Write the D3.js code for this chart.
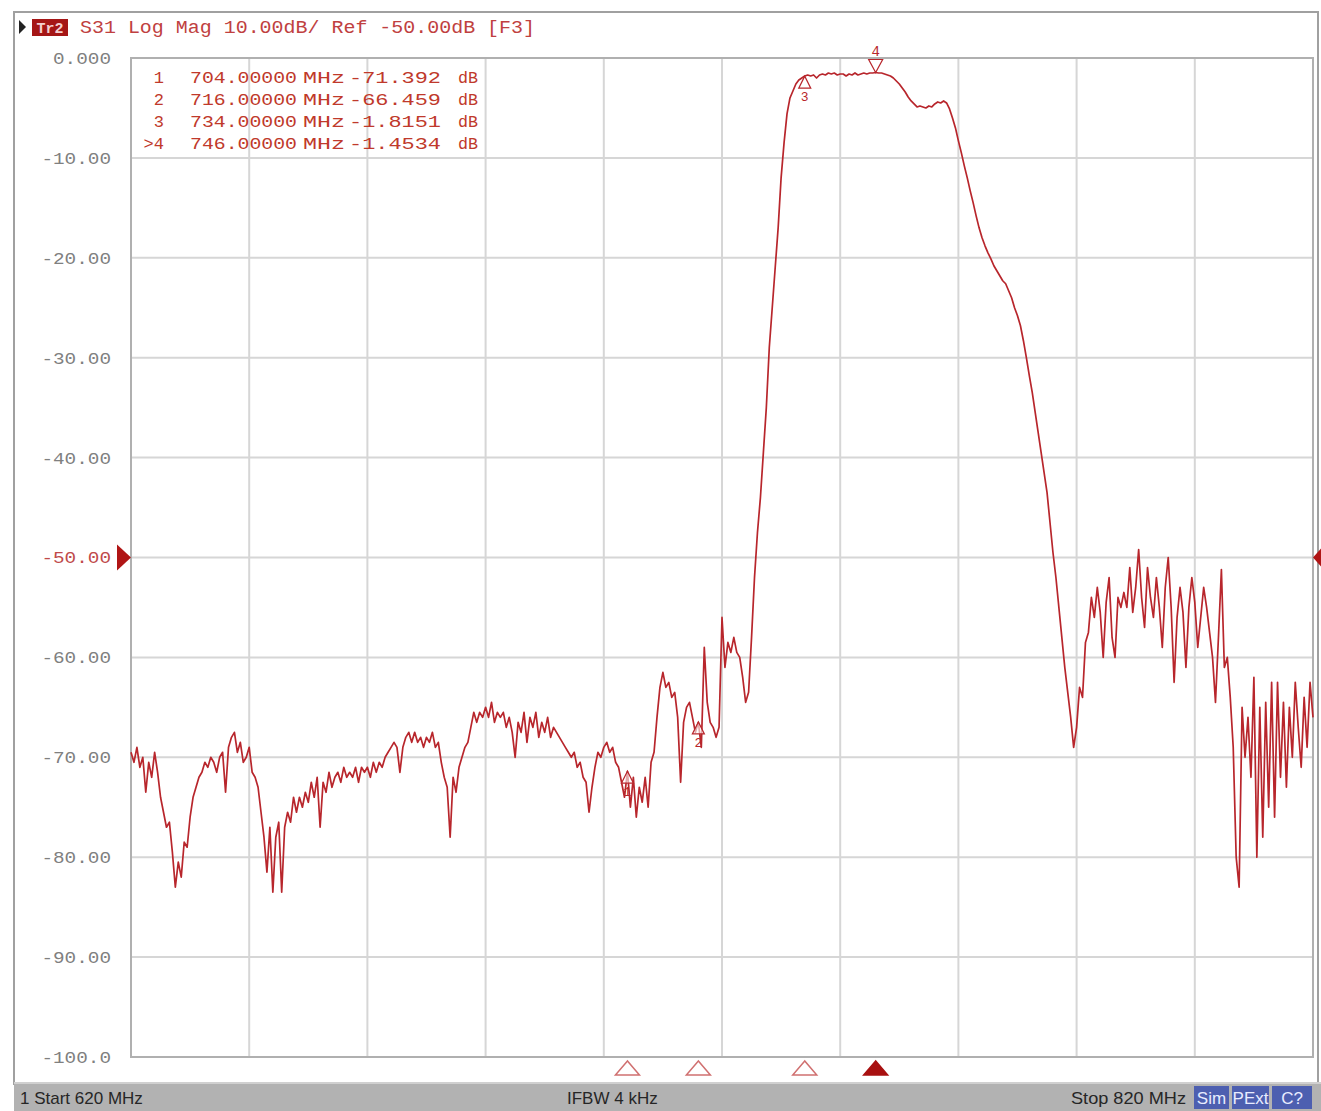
<!DOCTYPE html>
<html>
<head>
<meta charset="utf-8">
<script src="https://cdn.jsdelivr.net/npm/d3@7/dist/d3.min.js"></script>
<style>
body { margin: 0; background: #fff; }
</style>
</head>
<body>
<div id="chart"></div>
<script>
const svgWidth = 1321
const svgHeight = 1111
let margin = { top: 58, right: 8, bottom: 54, left: 131 }
let width = svgWidth - margin.left - margin.right
let height = svgHeight - margin.top - margin.bottom

// sweep: 620..820 MHz, one reading every 0.5 MHz
const startMHz = 620
const stopMHz = 820
const stepMHz = 0.5
const s31 = [
  -69.5,-70.5,-69,-71,-70,-73.5,-70.5,-72,-69.5,-71.5,-74,-75.5,-77,-76.5,-79.5,-83,-80.5,-82,-78.5,-79,
  -76,-74,-73,-72,-71.5,-70.5,-71,-70,-70.5,-71.5,-70,-69.5,-73.5,-69,-68,-67.5,-69.5,-68.5,-70.5,-70,
  -69,-71.5,-72,-73,-75.5,-78,-81.5,-77,-83.5,-78,-76.5,-83.5,-77,-75.5,-76.5,-74,-75.5,-74,-75,-73.5,
  -74.5,-72.5,-74,-72,-77,-72.5,-73.5,-71.5,-73,-72,-71.5,-72.5,-71,-72,-71.5,-72,-71,-72.5,-71,-71.5,
  -71,-72,-70.5,-71.5,-70.5,-71,-70,-69.5,-69,-68.5,-69,-71.5,-69,-68,-67.5,-68.5,-67.5,-68.5,-68,-69,
  -68,-68.5,-67.5,-69,-68.5,-70.5,-72,-73,-78,-72,-73.5,-71,-70,-69,-68.5,-67,-65.5,-66.5,-65.5,-66,
  -65,-66,-64.5,-66.5,-65.5,-66,-65.5,-67,-66,-67.5,-70,-66.5,-67.5,-65.5,-68.5,-66,-67,-65.5,-68,-66.5,
  -67.5,-66,-68,-67,-67.5,-68,-68.5,-69,-69.5,-70,-69.5,-71,-70.5,-72,-72.5,-75.5,-73,-71,-69.5,-70,
  -69,-68.5,-69.5,-69,-70.5,-71,-72.5,-74,-71.4,-75,-72,-76,-73,-74.5,-72,-75,-70.5,-69.5,-66,-63,
  -61.5,-63,-62.5,-64,-63.5,-66,-72.5,-66.5,-65,-64.5,-66,-67.5,-66.5,-69,-59,-64.5,-66.5,-67,-68,-67,
  -56,-61,-58.5,-59.5,-58,-59.5,-60,-62,-64.5,-63.5,-58,-52,-47.5,-44,-39.5,-35,-29,-25,-21,-17,
  -12,-8.5,-5.6,-4,-3.3,-2.6,-2.2,-2.0,-1.8,-1.7,-1.8,-1.7,-2.0,-1.7,-1.6,-1.7,-1.5,-1.6,-1.5,-1.7,
  -1.6,-1.6,-1.8,-1.6,-1.7,-1.5,-1.7,-1.6,-1.5,-1.6,-1.5,-1.5,-1.45,-1.5,-1.5,-1.6,-1.7,-1.8,-2.0,-2.3,
  -2.6,-3.0,-3.4,-3.9,-4.3,-4.6,-4.9,-4.8,-4.9,-5.0,-4.8,-4.9,-4.6,-4.4,-4.5,-4.3,-4.5,-5.1,-6.0,-7.0,
  -8.3,-9.5,-10.8,-12.0,-13.3,-14.5,-15.8,-17.0,-18.0,-18.8,-19.5,-20.1,-20.8,-21.3,-21.8,-22.3,-22.6,-23.3,-24.0,-25.0,
  -25.8,-26.8,-28.3,-30.0,-31.8,-33.5,-35.5,-37.5,-39.5,-41.5,-43.5,-46.5,-49.5,-52,-55,-58,-61,-63.5,-66,-69,
  -67,-63,-64,-58.5,-57.5,-54,-56,-53,-55.5,-60,-54.5,-52,-58,-60,-54,-55,-53.5,-55,-51,-55.5,
  -53,-49.2,-54,-57,-51,-54,-56,-52,-55,-59,-53,-50,-55,-62.5,-56,-53,-55.5,-61,-55,-52,
  -54.5,-59,-56,-53,-55,-57.5,-60,-64.5,-58,-51.2,-61,-60,-64,-69,-80,-83,-65,-70,-66,-72,
  -62,-80,-65,-78,-64.5,-75,-62.5,-76,-62.5,-72,-64.5,-73,-65,-70,-62.5,-67,-71,-64,-69,-62.5,
  -66
]

const yTicks = [0, -10, -20, -30, -40, -50, -60, -70, -80, -90, -100]
const yTickLabels = ["0.000", "-10.00", "-20.00", "-30.00", "-40.00", "-50.00",
  "-60.00", "-70.00", "-80.00", "-90.00", "-100.0"]
const xGridMHz = [620, 640, 660, 680, 700, 720, 740, 760, 780, 800, 820]
const refLevel = -50

const markerIds = ["1", "2", "3", "4"]
const markerFreqs = [704, 716, 734, 746]
const markerVals = [-71.392, -66.459, -1.8151, -1.4534]
const markerTableIds = ["1", "2", "3", ">4"]
const markerFreqText = ["704.00000", "716.00000", "734.00000", "746.00000"]
const markerValText = ["-71.392", "-66.459", "-1.8151", "-1.4534"]
const activeMarker = "4"

const headerText = "S31 Log Mag 10.00dB/ Ref -50.00dB [F3]"
const statusStart = "1  Start 620 MHz"
const statusIfbw = "IFBW 4 kHz"
const statusStop = "Stop 820 MHz"
const statusBoxes = ["Sim", "PExt", "C?"]

const traceColor = "#b8262c"
const mono = "'Liberation Mono', 'DejaVu Sans Mono', monospace"
const narrow = "'Liberation Sans Narrow', 'Liberation Sans', sans-serif"

let svg = d3
  .select("#chart")
  .append("svg")
  .attr("width", svgWidth)
  .attr("height", svgHeight)
  .style("display", "block")

// outer window frame
svg.append("rect")
  .attr("x", 14).attr("y", 12)
  .attr("width", 1304).attr("height", 1072)
  .attr("fill", "none")
  .attr("stroke", "#a0a0a0")
  .attr("stroke-width", 2)

let chartGroup = svg
  .append("g")
  .attr("transform", `translate(${margin.left}, ${margin.top})`)

let xScale = d3.scaleLinear().domain([startMHz, stopMHz]).range([0, width])
let yScale = d3.scaleLinear().domain([-100, 0]).range([height, 0])

// grid
chartGroup.append("g")
  .selectAll("line")
  .data(xGridMHz)
  .enter()
  .append("line")
  .attr("x1", d => xScale(d)).attr("x2", d => xScale(d))
  .attr("y1", 0).attr("y2", height)
  .attr("stroke", "#d6d6d6")
  .attr("stroke-width", 2)
chartGroup.append("g")
  .selectAll("line")
  .data(yTicks)
  .enter()
  .append("line")
  .attr("x1", 0).attr("x2", width)
  .attr("y1", d => yScale(d)).attr("y2", d => yScale(d))
  .attr("stroke", "#d6d6d6")
  .attr("stroke-width", 2)

// plot border
chartGroup.append("rect")
  .attr("width", width).attr("height", height)
  .attr("fill", "none")
  .attr("stroke", "#b0b0b0")
  .attr("stroke-width", 2)

// y labels via axis
let leftAxis = d3.axisLeft(yScale)
  .tickValues(yTicks)
  .tickSize(0)
  .tickPadding(20)
  .tickFormat((d, i) => yTickLabels[i])
let yAxis = chartGroup.append("g").call(leftAxis)
yAxis.select(".domain").remove()
yAxis.selectAll("text")
  .style("font-family", mono)
  .style("font-size", "17px")
  .attr("fill", d => d === refLevel ? "#c04a4a" : "#808080")
  .attr("textLength", (d, i) => yTickLabels[i].length * 11.6)
  .attr("lengthAdjust", "spacingAndGlyphs")

// reference level arrows
chartGroup.append("path")
  .attr("d", `M${-14},${yScale(refLevel) - 13} L0,${yScale(refLevel)} L${-14},${yScale(refLevel) + 13} Z`)
  .attr("fill", "#b01515")
chartGroup.append("path")
  .attr("d", `M${width + 8},${yScale(refLevel) - 9} L${width},${yScale(refLevel)} L${width + 8},${yScale(refLevel) + 9} Z`)
  .attr("fill", "#b01515")

// trace
let traceData = s31.map((v, i) => ({ f: startMHz + i * stepMHz, v: v }))
let line = d3.line()
  .x(d => xScale(d.f))
  .y(d => yScale(d.v))
chartGroup.append("path")
  .datum(traceData)
  .attr("d", line)
  .attr("fill", "none")
  .attr("stroke", traceColor)
  .attr("stroke-width", 1.7)
  .attr("stroke-linejoin", "round")

// markers on trace
markerIds.forEach((id, i) => {
  let mx = xScale(markerFreqs[i])
  let my = yScale(markerVals[i])
  let g = chartGroup.append("g")
  if (id === activeMarker) {
    g.append("path")
      .attr("d", `M${mx},${my} L${mx - 7},${my - 13} L${mx + 7},${my - 13} Z`)
      .attr("fill", "#fff").attr("stroke", traceColor).attr("stroke-width", 1.2)
    g.append("text")
      .attr("x", mx).attr("y", my - 17)
      .attr("text-anchor", "middle")
      .style("font-family", mono).style("font-size", "14px")
      .attr("fill", traceColor)
      .text(id)
  } else {
    g.append("path")
      .attr("d", `M${mx},${my} L${mx - 6},${my + 12} L${mx + 6},${my + 12} Z`)
      .attr("fill", "#fff").attr("fill-opacity", 0.6)
      .attr("stroke", traceColor).attr("stroke-width", 1.2)
    g.append("text")
      .attr("x", mx).attr("y", my + 25)
      .attr("text-anchor", "middle")
      .style("font-family", mono).style("font-size", "13px")
      .attr("fill", traceColor)
      .text(id)
  }
})

// marker position triangles under the grid
markerIds.forEach((id, i) => {
  let mx = xScale(markerFreqs[i])
  chartGroup.append("path")
    .attr("d", `M${mx},${height + 4} L${mx - 12},${height + 18} L${mx + 12},${height + 18} Z`)
    .attr("fill", id === activeMarker ? "#a81010" : "#fff")
    .attr("stroke", id === activeMarker ? "#a81010" : "#d07070")
    .attr("stroke-width", 1.5)
})

// marker table
let table = chartGroup.append("g")
  .style("font-family", mono)
  .style("font-size", "17px")
  .attr("fill", "#c0392b")
markerTableIds.forEach((id, i) => {
  let ty = 25 + i * 22
  table.append("text").attr("x", 33).attr("y", ty).attr("text-anchor", "end").text(id)
  table.append("text").attr("x", 59).attr("y", ty)
    .attr("textLength", 107).attr("lengthAdjust", "spacingAndGlyphs")
    .text(markerFreqText[i])
  table.append("text").attr("x", 172).attr("y", ty)
    .attr("textLength", 42).attr("lengthAdjust", "spacingAndGlyphs")
    .text("MHz")
  table.append("text").attr("x", 310).attr("y", ty).attr("text-anchor", "end")
    .attr("textLength", 92).attr("lengthAdjust", "spacingAndGlyphs")
    .text(markerValText[i])
  table.append("text").attr("x", 327).attr("y", ty)
    .attr("textLength", 20).attr("lengthAdjust", "spacingAndGlyphs")
    .text("dB")
})

// header
svg.append("path").attr("d", "M19,20 L26,27 L19,34 Z").attr("fill", "#222")
svg.append("rect")
  .attr("x", 32).attr("y", 19).attr("width", 36).attr("height", 17)
  .attr("fill", "#a51616")
svg.append("text")
  .attr("x", 50).attr("y", 33)
  .attr("text-anchor", "middle")
  .style("font-family", mono).style("font-size", "15px").style("font-weight", "bold")
  .attr("fill", "#f4d0d0")
  .text("Tr2")
svg.append("text")
  .attr("x", 80).attr("y", 33)
  .style("font-family", mono).style("font-size", "18px")
  .attr("fill", "#c04040")
  .attr("textLength", 455).attr("lengthAdjust", "spacingAndGlyphs")
  .text(headerText)

// status bar
svg.append("rect")
  .attr("x", 14).attr("y", 1083).attr("width", 1307).attr("height", 28)
  .attr("fill", "#b2b2b2")
svg.append("line")
  .attr("x1", 14).attr("x2", 1321).attr("y1", 1083).attr("y2", 1083)
  .attr("stroke", "#d0d0d0").attr("stroke-width", 2)
let status = svg.append("g")
  .style("font-family", narrow)
  .style("font-size", "17px")
  .attr("fill", "#262626")
status.append("text").attr("x", 20).attr("y", 1104).text(statusStart)
status.append("text").attr("x", 567).attr("y", 1104).text(statusIfbw)
status.append("text").attr("x", 1186).attr("y", 1104).attr("text-anchor", "end")
  .attr("textLength", 115).attr("lengthAdjust", "spacingAndGlyphs")
  .text(statusStop)
let boxX = [1194, 1232, 1272]
let boxW = [35, 37, 40]
statusBoxes.forEach((b, i) => {
  status.append("rect")
    .attr("x", boxX[i]).attr("y", 1086).attr("width", boxW[i]).attr("height", 23)
    .attr("fill", "#4d5fb0")
  status.append("text")
    .attr("x", boxX[i] + boxW[i] / 2).attr("y", 1104)
    .attr("text-anchor", "middle")
    .attr("fill", "#e8ecff")
    .text(b)
})
</script>
</body>
</html>
